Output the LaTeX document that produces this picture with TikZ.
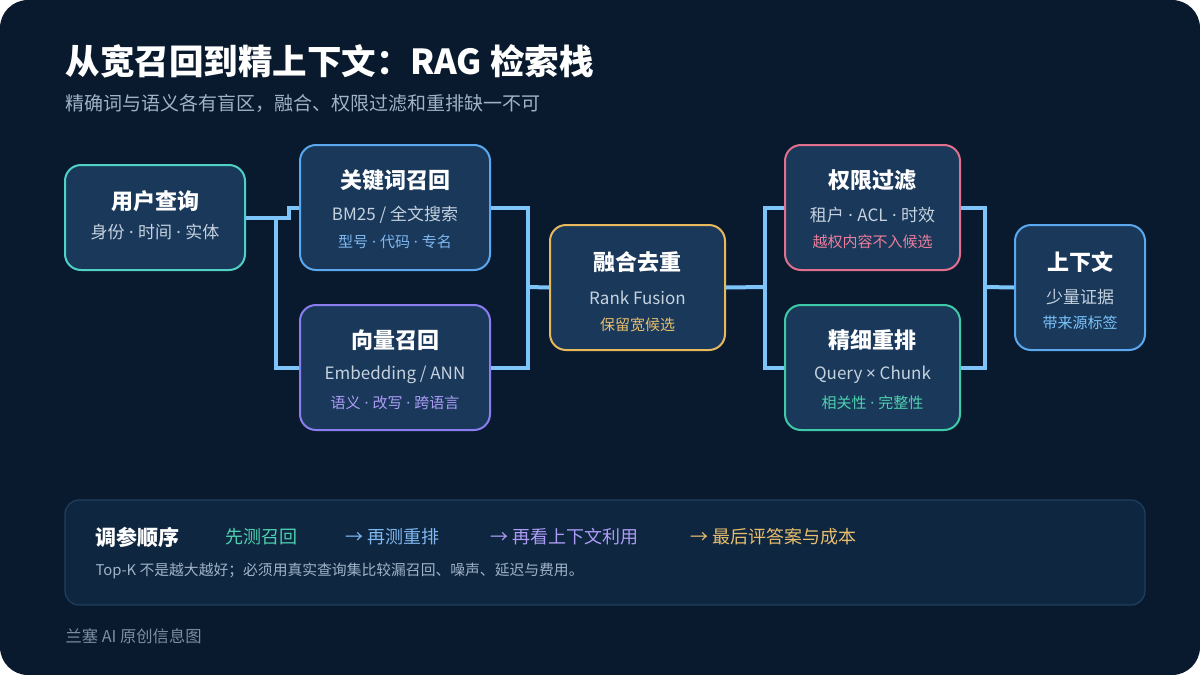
\documentclass[tikz,border=0pt]{standalone}
\usepackage{fontspec}
\setmainfont{Noto Sans CJK SC}
\newfontfamily\latinfont{Noto Sans}
\usetikzlibrary{positioning}

\definecolor{bg}{HTML}{0A1A2E}
\definecolor{boxfill}{HTML}{19385A}
\definecolor{panelfill}{HTML}{0F2640}
\definecolor{panelline}{HTML}{1F3F5E}
\definecolor{linkc}{HTML}{7CC4FA}
\definecolor{midtext}{HTML}{C5D2DF}
\definecolor{subgray}{HTML}{9FB3C8}
\definecolor{cteal}{HTML}{4FD1C5}
\definecolor{cblue}{HTML}{5AA9F0}
\definecolor{cpurple}{HTML}{8B7CF0}
\definecolor{camber}{HTML}{E8B85C}
\definecolor{cpink}{HTML}{E0708E}
\definecolor{cgreen}{HTML}{3FC9A8}
\definecolor{tblue}{HTML}{7FB8F0}
\definecolor{tpurple}{HTML}{AD9CF7}
\definecolor{tamber}{HTML}{E8BE6E}
\definecolor{tpink}{HTML}{EC7E9C}
\definecolor{tgreen}{HTML}{4FD1B0}

\newcommand{\sdot}{{\latinfont\ ·\ }}

\begin{document}
\begin{tikzpicture}[x=1pt,y=-1pt,
	box/.style={draw,line width=2pt,fill=boxfill,rounded corners=16pt,inner sep=0pt},
	link/.style={linkc,line width=4pt},
	ttl/.style={font=\fontsize{22}{26}\selectfont\bfseries,text=white},
	mid/.style={font=\fontsize{17}{20}\selectfont,text=midtext},
	tag/.style={font=\fontsize{15}{18}\selectfont}]
			\path
			(528,287) coordinate (m1)
			(765,287) coordinate (m2)
			(985,287) coordinate (m3);
			
			\fill[white] (0,0) rectangle (1200,675);
			\fill[bg,rounded corners=28pt] (0,0) rectangle (1200,675);
			
			\node[font=\fontsize{34.5}{40}\selectfont\bfseries,text=white,anchor=west] (title) at (62,61) {从宽召回到精上下文：RAG 检索栈};
			\node[font=\fontsize{19}{22}\selectfont,text=subgray,anchor=west] (subtitle) at (62,103) {精确词与语义各有盲区，融合、权限过滤和重排缺一不可};
			
			% boxes
			\node[box,draw=cteal,minimum width=180pt,minimum height=105pt] (q) at (155,217.5) {};
			\node[box,draw=cblue,minimum width=190pt,minimum height=125pt] (kw) at (395,207.5) {};
			\node[box,draw=cpurple,minimum width=190pt,minimum height=125pt] (vec) at (395,367.5) {};
			\node[box,draw=camber,minimum width=175pt,minimum height=125pt] (fu) at (637.5,287.5) {};
			\node[box,draw=cpink,minimum width=175pt,minimum height=125pt] (acl) at (872.5,207.5) {};
			\node[box,draw=cgreen,minimum width=175pt,minimum height=125pt] (rr) at (872.5,367.5) {};
			\node[box,draw=cblue,minimum width=130pt,minimum height=125pt] (ctx) at (1080,287.5) {};
			
			\draw[link] (q.east) -- ++(43,0) |- (kw.west);
			\draw[link] (q.east) -- ++(30,0) |- (vec.west);
			\draw[link] (kw.east) -| (m1) |- (vec.east);
			\draw[link] (m1) -- (fu.west);
			\draw[link] (fu.east) -- (m2);
			\draw[link] (acl.west) -| (m2) |- (rr.west);
			\draw[link] (acl.east) -| (m3) |- (rr.east);
			\draw[link] (m3) -- (ctx.west);
			
			\node[ttl] (q-t) at (155,201) {用户查询};
			\node[mid] (q-s) at (155,232) {身份\sdot 时间\sdot 实体};
			
			\node[ttl] (kw-t) at (395,180) {关键词召回};
			\node[mid] (kw-s) at (395,215) {BM25 / 全文搜索};
			\node[tag,text=tblue] (kw-g) at (395,242) {型号\sdot 代码\sdot 专名};
			
			\node[ttl] (vec-t) at (395,340) {向量召回};
			\node[mid] (vec-s) at (395,375) {Embedding / ANN};
			\node[tag,text=tpurple] (vec-g) at (395,403) {语义\sdot 改写\sdot 跨语言};
			
			\node[ttl] (fu-t) at (637.5,262) {融合去重};
			\node[mid] (fu-s) at (637.5,298) {Rank Fusion};
			\node[tag,text=tamber] (fu-g) at (637.5,325) {保留宽候选};
			
			\node[ttl] (acl-t) at (872.5,180) {权限过滤};
			\node[mid] (acl-s) at (872.5,215) {租户\sdot ACL\sdot 时效};
			\node[tag,text=tpink] (acl-g) at (872.5,242) {越权内容不入候选};
			
			\node[ttl] (rr-t) at (872.5,340) {精细重排};
			\node[mid] (rr-s) at (872.5,375) {Query {\latinfont ×} Chunk};
			\node[tag,text=tgreen] (rr-g) at (872.5,403) {相关性\sdot 完整性};
			
			\node[ttl] (ctx-t) at (1080,262) {上下文};
			\node[mid] (ctx-s) at (1080,297) {少量证据};
			\node[tag,text=linkc] (ctx-g) at (1080,323) {带来源标签};
			
			% tuning panel
			\node[draw=panelline,line width=1.2pt,fill=panelfill,rounded corners=14pt,minimum width=1080pt,minimum height=105pt,inner sep=0pt] (panel) at (605,552.5) {};
			\node[font=\fontsize{21}{24}\selectfont\bfseries,text=white,anchor=west] (p-h) at (92,537) {调参顺序};
			\node[font=\fontsize{18}{21}\selectfont,text=tgreen,anchor=west] (p-1) at (222,537) {先测召回};
			\node[font=\fontsize{18}{21}\selectfont,text=tblue,anchor=west] (p-2) at (342,537) {→ 再测重排};
			\node[font=\fontsize{18}{21}\selectfont,text=tpurple,anchor=west] (p-3) at (487,537) {→ 再看上下文利用};
			\node[font=\fontsize{18}{21}\selectfont,text=tamber,anchor=west] (p-4) at (687,537) {→ 最后评答案与成本};
			\node[font=\fontsize{14.8}{18}\selectfont,text=subgray,anchor=west] (p-n) at (92,571) {Top-K 不是越大越好；必须用真实查询集比较漏召回、噪声、延迟与费用。};
			
			\node[font=\fontsize{16.3}{19}\selectfont,text=subgray!75!bg,anchor=west] (foot) at (62,636) {兰塞 AI 原创信息图};
		\end{tikzpicture}
\end{document}
